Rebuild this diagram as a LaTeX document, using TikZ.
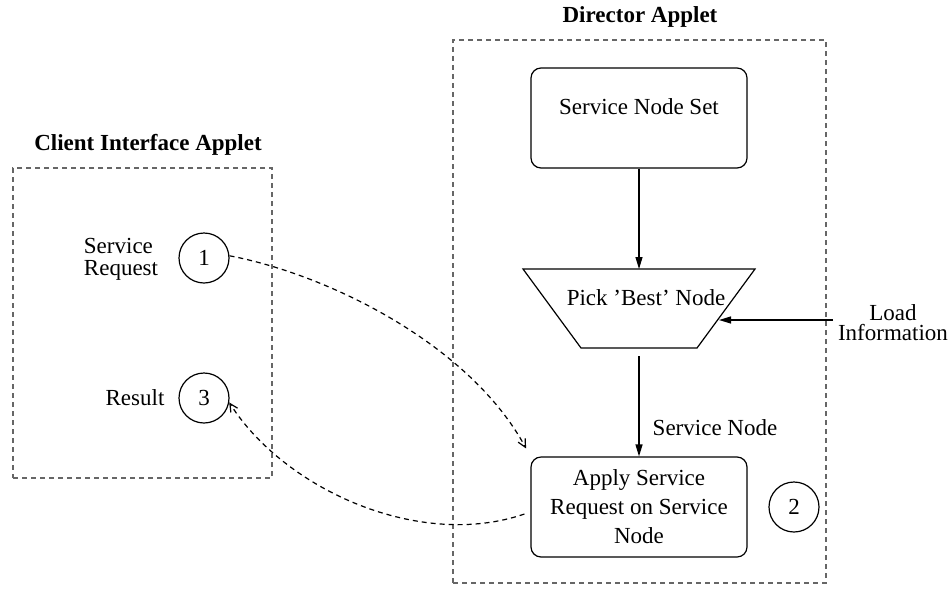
\documentclass[tikz,border=0pt]{standalone}
\usepackage{fontspec}
\setmainfont{Liberation Serif}
\usetikzlibrary{arrows.meta}
\begin{document}
\begin{tikzpicture}[x=0.5pt,y=-0.5pt,
  every node/.style={font=\fontsize{11.5}{13.8}\selectfont, inner sep=0pt},
  grp/.style={draw=black!60, dash pattern=on 2.5pt off 2pt, line width=0.65pt},
  rbox/.style={draw, rounded corners=5pt, minimum width=108pt, minimum height=50pt, line width=0.6pt},
  num/.style={draw, circle, minimum size=25pt, line width=0.6pt},
  flow/.style={draw, line width=0.6pt, -{Triangle[length=6pt,width=3.5pt]}},
  msg/.style={draw, line width=0.6pt, dash pattern=on 2.5pt off 2pt, -{Straight Barb[length=4pt,width=4pt]}},
  title/.style={font=\fontsize{11.5}{13.8}\selectfont\bfseries}
]
\useasboundingbox (0,0) rectangle (951,594);
% groups
\node[grp, minimum width=129.5pt, minimum height=155pt] (client) at (142.5,323) {};
\node[grp, minimum width=186.5pt, minimum height=271.5pt] (director) at (639.5,311.5) {};
\node[title] (clientT) at (148,145) {Client Interface Applet};
\node[title] (dirT) at (640,17) {Director Applet};
% director contents
\node[rbox] (set) at (639,118) {};
\node (setT) at (639,107) {Service Node Set};
\draw[line width=0.6pt] (523,269) -- (755,269) -- (697,348) -- (581,348) -- cycle;
\node (pick) at (646,298) {Pick 'Best' Node};
\coordinate (pickin) at (639,269);
\coordinate (pickout) at (639,356);
\coordinate (pickside) at (719,320);
\node[rbox, align=center, font=\fontsize{11.5}{14.5}\selectfont] (apply) at (639,507) {Apply Service\\Request on Service\\Node};
\node[num] (c2) at (794,507) {2};
\node (sn) at (715,428) {Service Node};
\node[align=center, font=\fontsize{11.5}{10}\selectfont] (load) at (893,323) {Load\\Information};
\coordinate (loadsrc) at (833,320);
\draw[flow] (set) -- (pickin);
\draw[flow] (pickout) -- (apply);
\draw[flow] (loadsrc) -- (pickside);
% client contents
\node[num] (c1) at (204,258) {1};
\node[num] (c3) at (204,398) {3};
\node[align=left, font=\fontsize{11.5}{11}\selectfont] (sreq) at (121,259) {Service\\Request};
\node (res) at (135,398) {Result};
% messages
\draw[msg, shorten >=4.5pt] (c1.5) .. controls (330,275) and (470,345) .. (apply.north west);
\draw[msg] ([xshift=-3pt,yshift=-3.5pt]apply.west) .. controls (420,550) and (285,490) .. (c3.-10);
\end{tikzpicture}
\end{document}
